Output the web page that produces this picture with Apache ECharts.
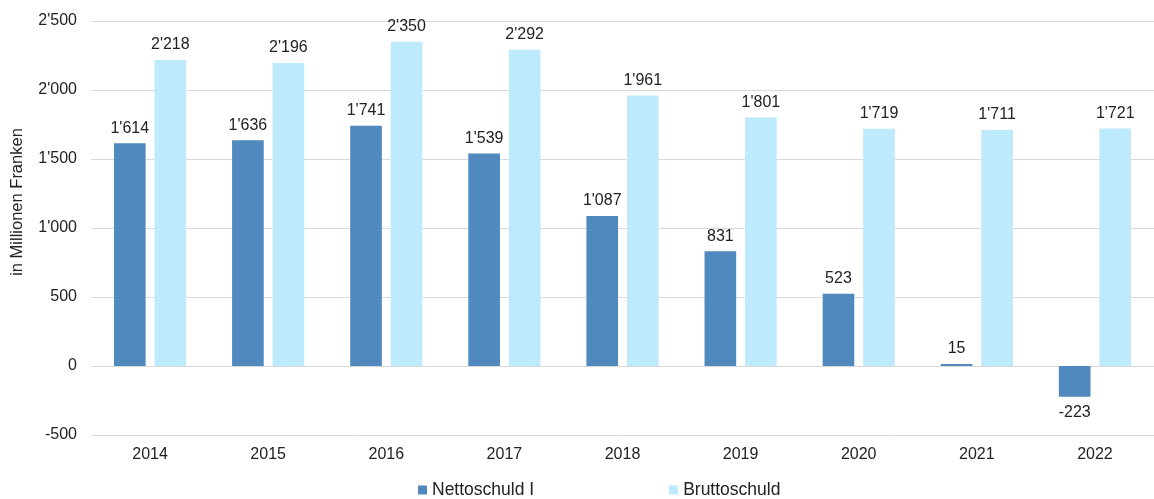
<!DOCTYPE html>
<html><head><meta charset="utf-8">
<script src="https://cdn.jsdelivr.net/npm/echarts@6/dist/echarts.min.js"></script>
<style>html,body{margin:0;padding:0;background:#fff}#c{width:1154px;height:499px}</style>
</head><body><div id="c"></div>
<script>
const categories = ['2014','2015','2016','2017','2018','2019','2020','2021','2022'];
const nettoschuld = [1614, 1636, 1741, 1539, 1087, 831, 523, 15, -223];
const bruttoschuld = [2218, 2196, 2350, 2292, 1961, 1801, 1719, 1711, 1721];
const seriesNames = ['Nettoschuld I', 'Bruttoschuld'];
const yAxisTitle = 'in Millionen Franken';

function fmt(v){
  const neg = v < 0; let s = String(Math.abs(Math.round(v)));
  s = s.replace(/\B(?=(\d{3})+(?!\d))/g, "'");
  return (neg ? '-' : '') + s;
}
const font = 'Liberation Sans, Arial, sans-serif';
const fs = 16;
const chart = echarts.init(document.getElementById('c'));
chart.setOption({
  animation: false,
  textStyle: {fontFamily: font},
  grid: {left: 91, width: 1076, top: 21, bottom: 64},
  legend: {
    top: 481, left: 418, padding: 0, itemWidth: 9, itemHeight: 9, itemGap: 135,
    icon: 'rect', textStyle: {fontSize: 17.5, color: '#222', fontFamily: font},
    data: seriesNames
  },
  graphic: [{
    type: 'text', x: 9, y: 202, rotation: Math.PI / 2,
    style: {text: yAxisTitle, fontSize: 16.5, fill: '#222', fontFamily: font,
      align: 'center', verticalAlign: 'top'}
  }],
  xAxis: {
    type: 'category', data: categories,
    axisLine: {show: false}, axisTick: {show: false},
    axisLabel: {fontSize: fs, color: '#222', margin: 12}
  },
  yAxis: {
    type: 'value', min: -500, max: 2500, interval: 500,
    axisLabel: {fontSize: fs, color: '#222', margin: 14, formatter: v => fmt(v)},
    splitLine: {lineStyle: {color: '#d9d9d9', width: 1}},
    axisLine: {show: false}, axisTick: {show: false}
  },
  series: [
    {
      name: seriesNames[0], type: 'bar',
      data: nettoschuld.map(v => v < 0 ? {value: v, label: {position: 'bottom', distance: 8}} : v),
      barWidth: '26.8%', barGap: '28%',
      itemStyle: {color: '#4f89bd'},
      label: {show: true, position: 'top', fontSize: fs, color: '#222', distance: 7,
        formatter: p => fmt(p.value)}
    },
    {
      name: seriesNames[1], type: 'bar', data: bruttoschuld,
      barWidth: '26.8%', barGap: '28%',
      itemStyle: {color: '#bdeafc'},
      label: {show: true, position: 'top', fontSize: fs, color: '#222', distance: 7,
        formatter: p => fmt(p.value)}
    }
  ]
});
</script></body></html>
